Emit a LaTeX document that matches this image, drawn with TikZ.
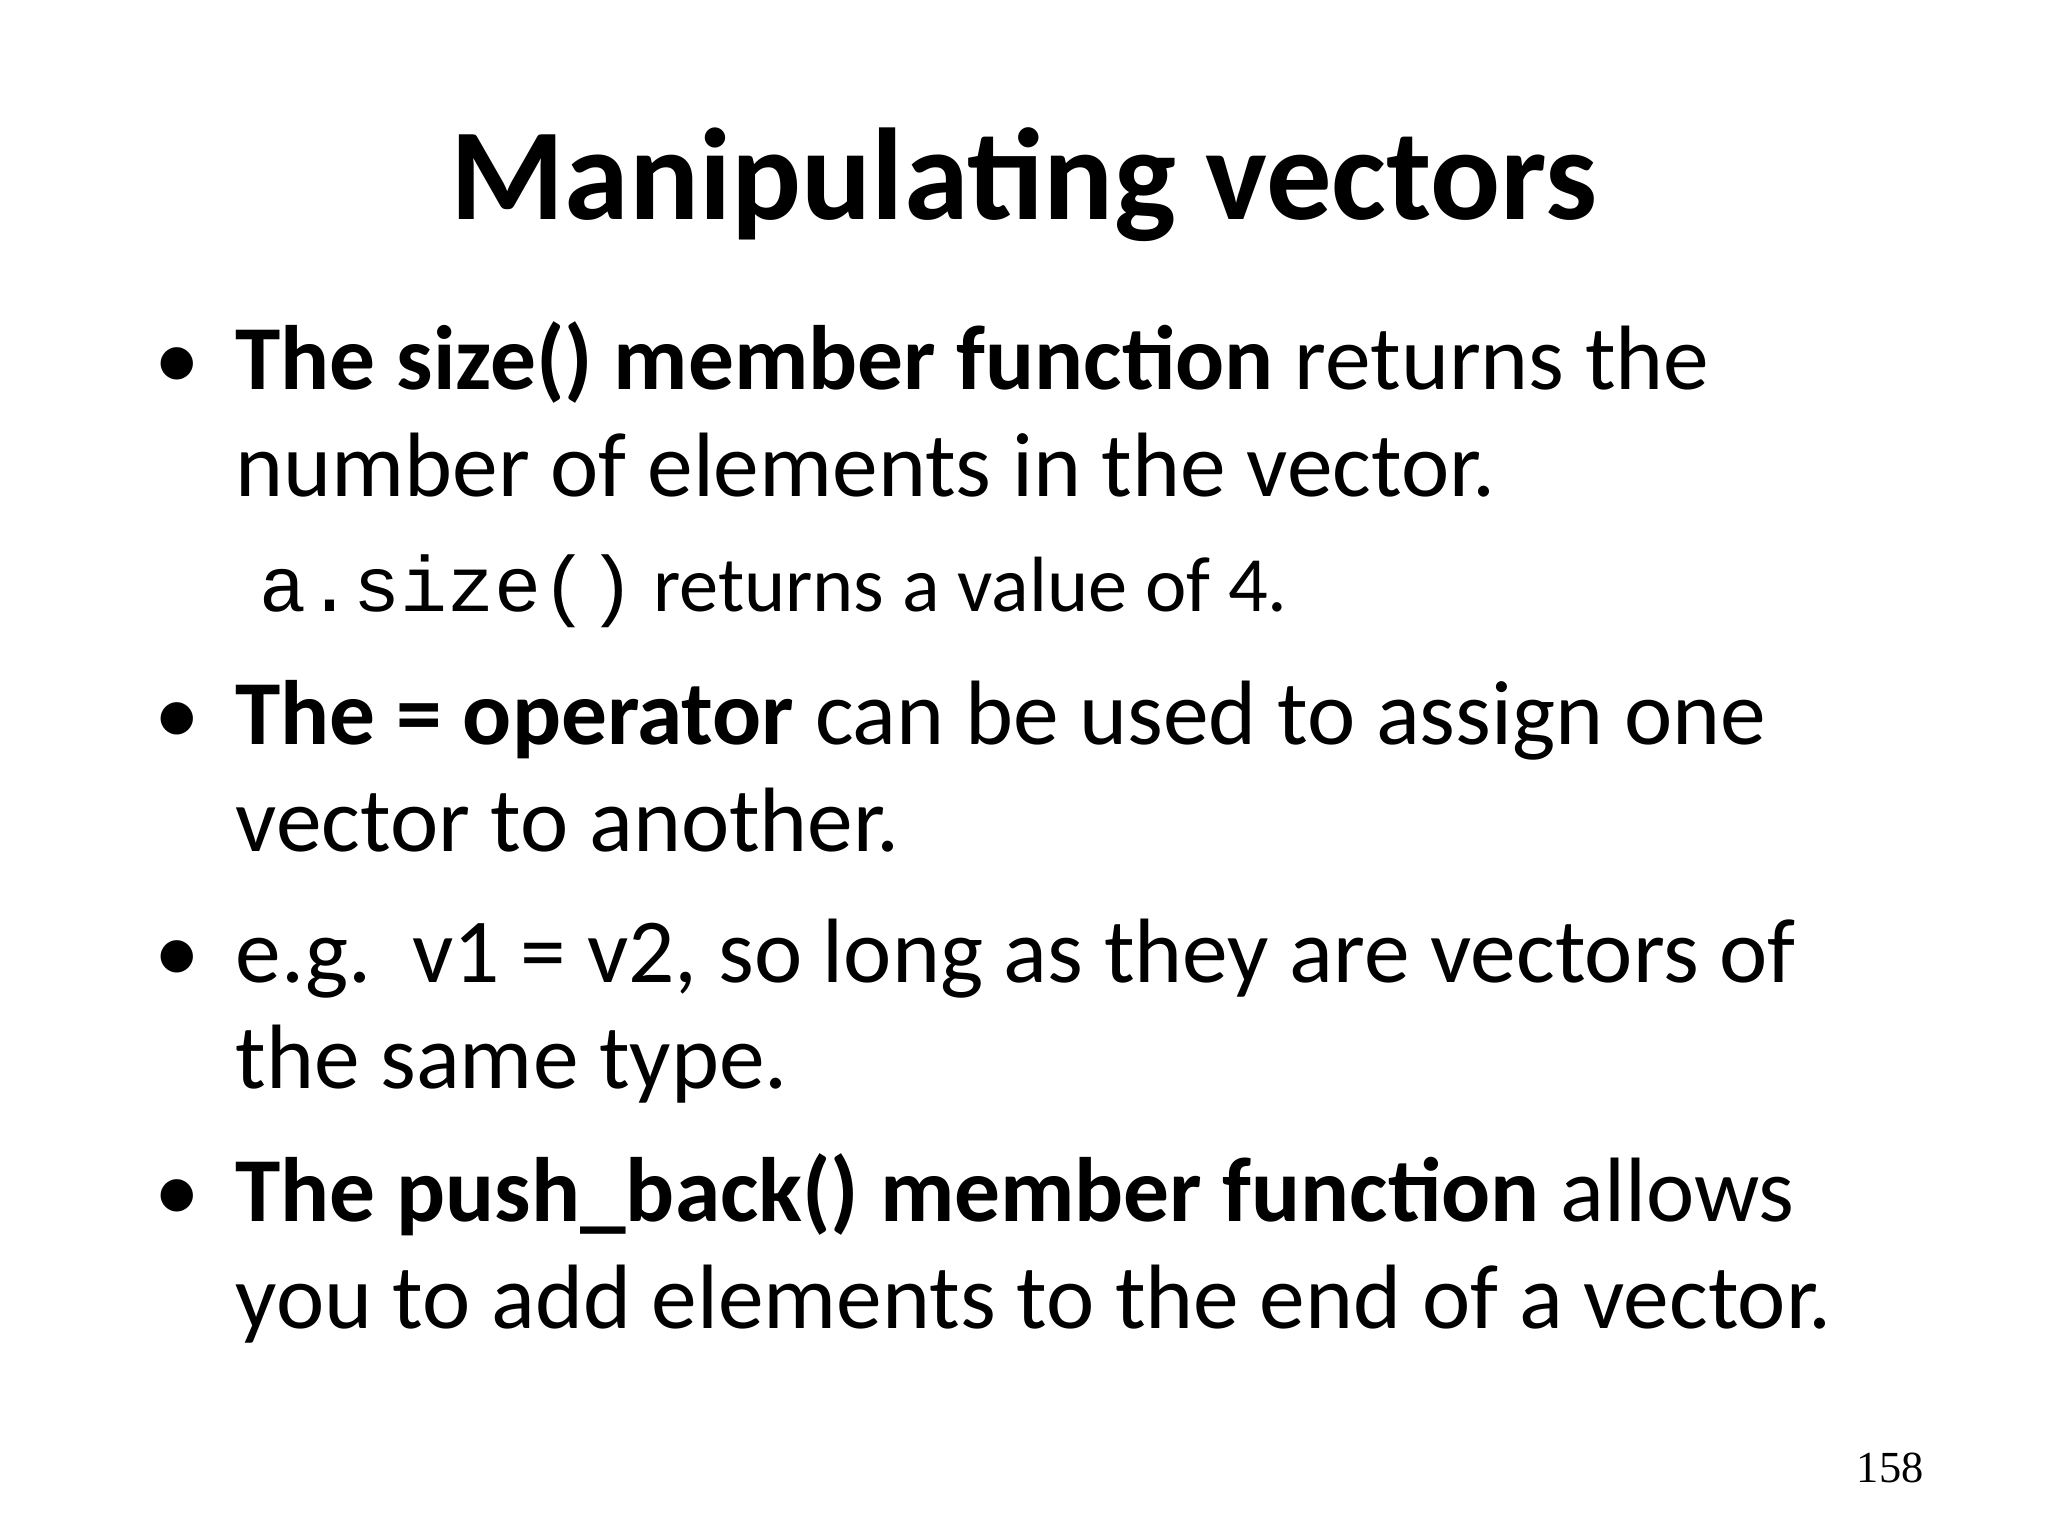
\documentclass[tikz,border=0pt]{standalone}
\usepackage{fontspec}
\setmainfont{Carlito}
\newfontfamily\codefont{Liberation Mono}
\newfontfamily\numfont{Liberation Serif}
\begin{document}
\begin{tikzpicture}[x=0.5pt,y=-0.5pt,
  ln/.style={anchor=base west,inner sep=0pt,font=\fontsize{35}{42}\selectfont},
  bul/.style={anchor=base west,inner sep=0pt,font=\fontsize{35}{42}\selectfont}]
\useasboundingbox (0,0) rectangle (1568,1176);
\node[anchor=base,inner sep=0pt,font=\fontsize{50}{60}\selectfont\bfseries] (title) at (784,168) {Manipulating vectors};
\foreach \y/\n in {298/b1,570/b2,752/b3,935/b4}
  \node[bul] (\n) at (118,\y) {•};
\node[ln] (l1) at (180,298) {\textbf{The size() member function} returns the};
\node[ln] (l2) at (180,380) {number of elements in the vector.};
\node[anchor=base west,inner sep=0pt,font=\fontsize{30}{36}\selectfont] (l3) at (198,468) {{\codefont a.size()} returns a value of 4.};
\node[ln] (l4) at (180,570) {\textbf{The = operator} can be used to assign one};
\node[ln] (l5) at (180,652) {vector to another.};
\node[ln] (l6) at (180,752) {e.g.\ \ v1 = v2, so long as they are vectors of};
\node[ln] (l7) at (180,833) {the same type.};
\node[ln] (l8) at (180,935) {\textbf{The push\_back() member function} allows};
\node[ln] (l9) at (180,1017) {you to add elements to the end of a vector.};
\node[anchor=base east,inner sep=0pt,font=\fontsize{17}{20}\selectfont\numfont] (pg) at (1473,1135) {158};
\end{tikzpicture}
\end{document}
